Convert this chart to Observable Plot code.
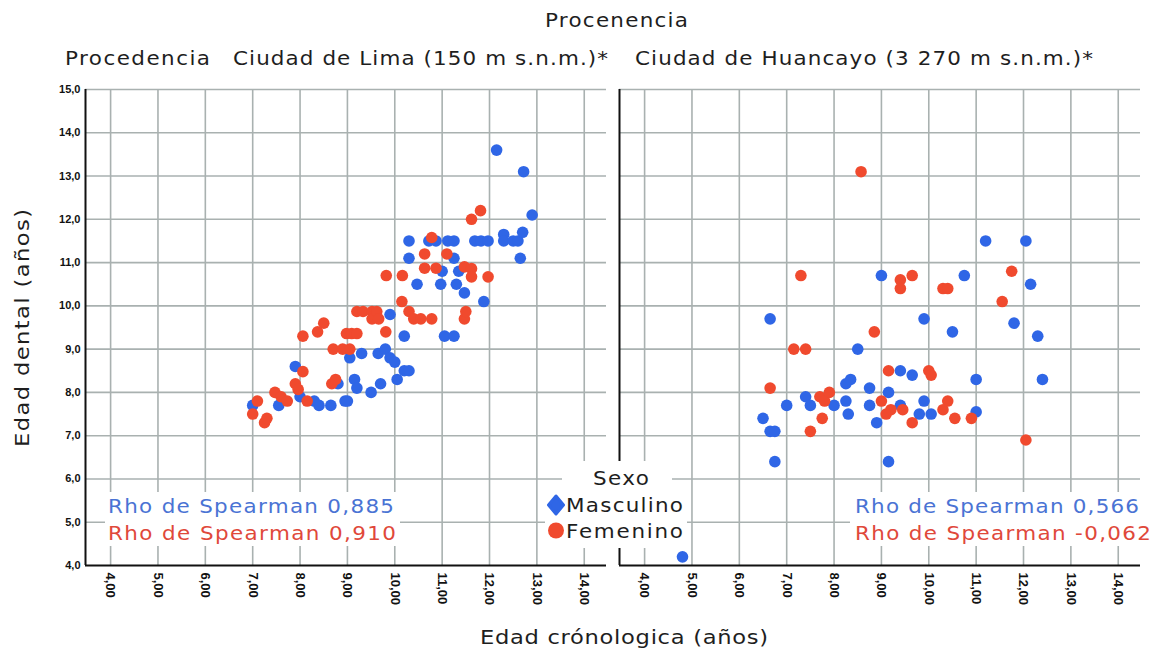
<!DOCTYPE html>
<html><head><meta charset="utf-8">
<script src="https://cdn.jsdelivr.net/npm/d3@7"></script>
<script src="https://cdn.jsdelivr.net/npm/@observablehq/plot@0.6"></script>
<style>
body{margin:0;background:#fff;}
#wrap{position:relative;width:1158px;height:653px;overflow:hidden;font-family:"DejaVu Sans",sans-serif;}
#wrap svg.plot{position:absolute;left:0;top:0;}
#wrap svg.plot g[aria-label="x-axis tick label"]{font-size:13px !important;font-weight:bold;font-family:"Liberation Sans",sans-serif;}
#wrap svg.plot g[aria-label="y-axis tick label"]{font-size:11px !important;font-weight:bold;font-family:"Liberation Sans",sans-serif;}
.lbl{position:absolute;white-space:nowrap;line-height:1;z-index:3;}
.box{position:absolute;background:#fff;z-index:2;}
</style></head><body><div id="wrap"></div>
<script>
// ---- data ----
const ciudades = ["Lima", "Huancayo"];
const sexos = ["Masculino", "Femenino"];
const xTicks = [4, 5, 6, 7, 8, 9, 10, 11, 12, 13, 14];
const yTicks = [4, 5, 6, 7, 8, 9, 10, 11, 12, 13, 14, 15];
const xDomain = [3.47, 14.47];
const yDomain = [4, 15];

const limaMasculino = [[7.0,7.7],[7.55,7.7],[7.9,8.6],[8.0,7.9],[8.3,7.8],[8.4,7.7],[8.65,7.7],[8.8,8.2],[8.95,7.8],[9.0,7.8],[9.05,8.8],[9.15,8.3],[9.2,8.1],[9.3,8.9],[9.5,8.0],[9.65,8.9],[9.7,8.2],[9.8,9.0],[9.9,8.8],[9.9,9.8],[10.0,8.7],[10.05,8.3],[10.2,8.5],[10.3,8.5],[10.2,9.3],[10.3,11.1],[10.3,11.5],[10.47,10.5],[10.72,11.5],[10.87,11.5],[11.0,10.8],[10.97,10.5],[11.05,9.3],[11.25,9.3],[11.12,11.5],[11.25,11.5],[11.25,11.1],[11.3,10.5],[11.35,10.8],[11.47,10.3],[11.69,11.5],[11.82,11.5],[11.97,11.5],[11.88,10.1],[12.15,13.6],[12.3,11.65],[12.3,11.5],[12.5,11.5],[12.6,11.5],[12.65,11.1],[12.7,11.7],[12.72,13.1],[12.9,12.1]];
const limaFemenino = [[7.0,7.5],[7.1,7.8],[7.25,7.3],[7.3,7.4],[7.47,8.0],[7.6,7.9],[7.73,7.8],[7.9,8.2],[7.96,8.07],[8.06,8.48],[8.06,9.3],[8.15,7.8],[8.37,9.4],[8.5,9.6],[8.67,8.2],[8.75,8.3],[8.7,9.0],[8.9,9.0],[9.05,9.0],[8.98,9.36],[9.09,9.36],[9.2,9.36],[9.2,9.87],[9.33,9.87],[9.52,9.87],[9.52,9.7],[9.62,9.87],[9.66,9.7],[9.81,9.4],[9.82,10.7],[10.16,10.7],[10.15,10.1],[10.3,9.87],[10.4,9.7],[10.55,9.7],[10.78,9.7],[10.63,10.87],[10.63,11.2],[10.78,11.58],[10.87,10.87],[11.1,11.2],[11.47,10.9],[11.62,10.86],[11.62,10.67],[11.47,9.7],[11.5,9.87],[11.97,10.67],[11.62,12.0],[11.81,12.2]];
const huancayoMasculino = [[4.8,4.2],[6.5,7.4],[6.65,7.1],[6.75,7.1],[6.75,6.4],[6.65,9.7],[7.0,7.7],[7.4,7.9],[7.5,7.7],[8.0,7.7],[8.25,7.8],[8.25,8.2],[8.35,8.3],[8.3,7.5],[8.5,9.0],[8.75,8.1],[8.75,7.7],[8.9,7.3],[9.0,10.7],[9.15,8.0],[9.15,6.4],[9.4,8.5],[9.4,7.7],[9.65,8.4],[9.8,7.5],[9.9,9.7],[9.9,7.8],[10.05,7.5],[10.5,9.4],[10.75,10.7],[11.0,8.3],[11.0,7.55],[11.2,11.5],[11.8,9.6],[12.05,11.5],[12.15,10.5],[12.3,9.3],[12.4,8.3]];
const huancayoFemenino = [[6.65,8.1],[7.15,9.0],[7.3,10.7],[7.4,9.0],[7.5,7.1],[7.7,7.9],[7.75,7.4],[7.8,7.8],[7.9,8.0],[8.57,13.1],[8.85,9.4],[9.0,7.8],[9.1,7.5],[9.15,8.5],[9.2,7.6],[9.4,10.6],[9.4,10.4],[9.45,7.6],[9.65,10.7],[9.65,7.3],[10.0,8.5],[10.05,8.4],[10.3,10.4],[10.4,10.4],[10.3,7.6],[10.4,7.8],[10.55,7.4],[10.9,7.4],[11.55,10.1],[11.75,10.8],[12.05,6.9]];

const rhoLima = ["0,885", "0,910"];
const rhoHuancayo = ["0,566", "-0,062"];

// ---- styles ----
const colBlue = "#2f66e6", colRed = "#f04a2e";
const txtBlue = "#4a73d4", txtRed = "#e0483a";
const gridCol = "#a9b1b0";

const rows = [];
const add = (arr, ciudad, sexo) => arr.forEach(([x, y]) => rows.push({ciudad, sexo, x, y}));
add(limaMasculino, "Lima", "Masculino");
add(huancayoMasculino, "Huancayo", "Masculino");
add(limaFemenino, "Lima", "Femenino");
add(huancayoFemenino, "Huancayo", "Femenino");

const fmt2 = d => d.toFixed(2).replace(".", ",");
const fmt1 = d => d.toFixed(1).replace(".", ",");

const chart = Plot.plot({
  width: 1158, height: 653,
  marginLeft: 85, marginRight: 18, marginTop: 89, marginBottom: 88,
  style: {background: "transparent", overflow: "visible"},
  fx: {domain: ciudades, paddingInner: 0.025, paddingOuter: 0, axis: null, label: null},
  x: {domain: xDomain},
  y: {domain: yDomain},
  color: {domain: sexos, range: [colBlue, colRed]},
  marks: [
    Plot.gridX(xTicks, {stroke: gridCol, strokeOpacity: 1, strokeWidth: 1.6}),
    Plot.gridY(yTicks.slice(1), {stroke: gridCol, strokeOpacity: 1, strokeWidth: 1.6}),
    Plot.axisY(yTicks, {anchor: "left", tickSize: 0, tickPadding: 5, tickFormat: fmt1, label: null,
      fontSize: 11, fontWeight: "bold", fontFamily: "Liberation Sans", fill: "#111"}),
    Plot.axisX(xTicks, {anchor: "bottom", tickSize: 0, tickPadding: 7, tickRotate: 90, textAnchor: "start",
      tickFormat: fmt2, label: null, fontSize: 13, fontWeight: "bold", fontFamily: "Liberation Sans", fill: "#111"}),
    Plot.ruleX([xDomain[0]], {stroke: "#111", strokeWidth: 2}),
    Plot.ruleY([yDomain[0]], {stroke: "#111", strokeWidth: 2}),
    Plot.dot(rows, {fx: "ciudad", x: "x", y: "y", fill: "sexo", r: 5.8})
  ]
});
chart.classList.add("plot");
const wrap = document.getElementById("wrap");
wrap.appendChild(chart);

// ---- text overlays ----
function box(l, t, w, h) {
  const b = document.createElement("div");
  b.className = "box";
  Object.assign(b.style, {left: l + "px", top: t + "px", width: w + "px", height: h + "px"});
  wrap.appendChild(b);
}
function label(txt, o) {
  const s = document.createElement("span");
  s.className = "lbl";
  s.textContent = txt;
  s.style.fontSize = o.size + "px";
  s.style.color = o.color || "#1e1e1e";
  wrap.appendChild(s);
  const nat = s.getBoundingClientRect().width;
  const sc = Math.min(1.13, o.w / nat);
  const ls = (o.w / sc - nat) / (txt.length - 1);
  s.style.letterSpacing = ls + "px";
  const w = (nat + ls * (txt.length - 1)) * sc, h = s.offsetHeight;
  if (o.rotate) {
    s.style.left = (o.cx - w / 2) + "px";
    s.style.top = (o.cy - h / 2) + "px";
    s.style.transformOrigin = "0 50%";
    s.style.transform = `translate(${w / 2}px,0) rotate(-90deg) translate(${-w / 2}px,0) scaleX(${sc})`;
  } else {
    s.style.left = o.x + "px";
    s.style.top = (o.cy - h / 2) + "px";
    s.style.transformOrigin = "0 50%";
    s.style.transform = `scaleX(${sc})`;
  }
  return s;
}

label("Procenencia", {x: 545, w: 143, cy: 20, size: 19});
label("Procedencia", {x: 65, w: 145, cy: 58, size: 19});
label("Ciudad de Lima (150 m s.n.m.)*", {x: 233, w: 375, cy: 58, size: 19});
label("Ciudad de Huancayo (3 270 m s.n.m.)*", {x: 635, w: 458, cy: 58, size: 19});
label("Edad dental (años)", {cx: 22, cy: 328, w: 238, size: 20, rotate: true});
label("Edad crónologica (años)", {x: 480, w: 288, cy: 637, size: 20});

// Rho boxes
box(105, 492, 295, 54);
box(850, 492, 308, 54);
label("Rho de Spearman " + rhoLima[0], {x: 108, w: 286, cy: 506, size: 19, color: txtBlue});
label("Rho de Spearman " + rhoLima[1], {x: 108, w: 288, cy: 533, size: 19, color: txtRed});
label("Rho de Spearman " + rhoHuancayo[0], {x: 855, w: 284, cy: 506, size: 19, color: txtBlue});
label("Rho de Spearman " + rhoHuancayo[1], {x: 855, w: 296, cy: 533, size: 19, color: txtRed});

// legend
box(562, 461, 110, 30);
box(545, 490, 142, 58);
label("Sexo", {x: 593, w: 56, cy: 478, size: 19});
label(sexos[0], {x: 566, w: 117, cy: 505, size: 19});
label(sexos[1], {x: 566, w: 117, cy: 531, size: 19});
const ns = "http://www.w3.org/2000/svg";
const lg = document.createElementNS(ns, "svg");
lg.setAttribute("width", 24); lg.setAttribute("height", 50);
Object.assign(lg.style, {position: "absolute", left: "544px", top: "493px", zIndex: 4});
const dia = document.createElementNS(ns, "path");
dia.setAttribute("d", "M12,3 L19.5,12 L12,21 L4.5,12 Z");
dia.setAttribute("fill", colBlue); dia.setAttribute("stroke", colBlue);
dia.setAttribute("stroke-width", 3); dia.setAttribute("stroke-linejoin", "round");
lg.appendChild(dia);
const cir = document.createElementNS(ns, "circle");
cir.setAttribute("cx", 12); cir.setAttribute("cy", 37.5); cir.setAttribute("r", 8);
cir.setAttribute("fill", colRed);
lg.appendChild(cir);
wrap.appendChild(lg);
</script>
</body></html>
